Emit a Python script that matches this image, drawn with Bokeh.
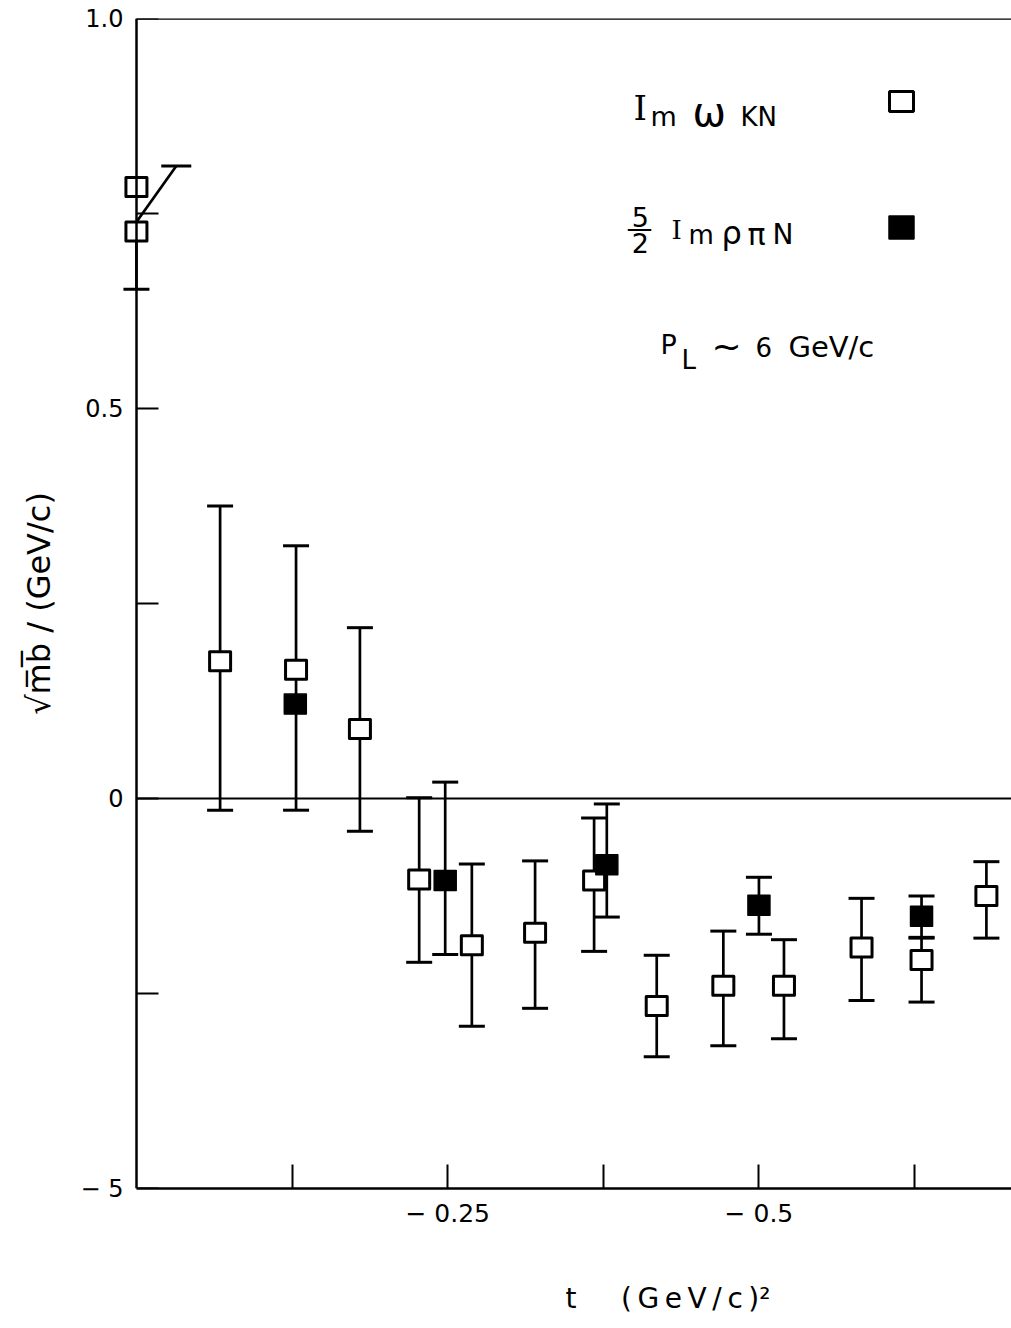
import numpy as np
from bokeh.plotting import figure
from bokeh.models import Range1d, FixedTicker, LinearAxis, Label, Title
from bokeh.embed import file_html
from bokeh.resources import INLINE

# ---------------- data ----------------
nan = float("nan")
# Im omega_KN (open squares)
open_t = [0.0, 0.0, -0.0672, -0.1282, -0.1795, -0.2271, -0.2694, -0.3202,
          -0.3676, -0.4179, -0.4714, -0.5201, -0.5824, -0.6306, -0.6827]
open_v = [0.784, 0.727, 0.176, 0.165, 0.089, -0.104, -0.188, -0.172,
          -0.105, -0.266, -0.240, -0.240, -0.191, -0.207, -0.125]
open_hi = [nan, nan, 0.375, 0.324, 0.219, 0.001, -0.084, -0.080,
           -0.025, -0.201, -0.170, -0.181, -0.128, -0.179, -0.081]
open_lo = [nan, 0.653, -0.015, -0.015, -0.042, -0.210, -0.292, -0.269,
           -0.196, -0.331, -0.317, -0.308, -0.259, -0.261, -0.179]
# upper error of the t=0 point, drawn displaced (diagonal) in the original
offset_bar_t = [0.0, -0.032]
offset_bar_v = [0.739, 0.811]

# 5/2 Im rho_piN (filled squares)
fill_t = [-0.1276, -0.2480, -0.3778, -0.5000, -0.6306]
fill_v = [0.121, -0.105, -0.085, -0.137, -0.151]
fill_hi = [nan, 0.021, -0.007, -0.101, -0.125]
fill_lo = [nan, -0.200, -0.152, -0.174, -0.178]

x_label_ticks = [-0.25, -0.5]
x_plain_ticks = [-0.125, -0.375, -0.625]
x_tick_labels = {-0.25: "\u2212\u00a00.25", -0.5: "\u2212\u00a00.5"}
y_label_ticks = [-0.5, 0.0, 0.5, 1.0]
y_all_ticks = [-0.5, -0.25, 0.0, 0.25, 0.5, 0.75, 1.0]
y_tick_labels = {-0.5: "\u2212\u00a05", 0.0: "0", 0.5: "0.5", 1.0: "1.0"}

# legend marker positions (data coords)
legend_open_tv = (-0.6145, 0.8936)
legend_fill_tv = (-0.6145, 0.732)

FONT = "DejaVu Sans"
X0 = 0.012
X1 = X0 - 890 / 1245.0

p = figure(width=1011, height=1328, x_range=Range1d(X0, X1), y_range=Range1d(-0.5, 1.0),
           output_backend="svg", toolbar_location=None,
           min_border_left=121, min_border_right=0, min_border_top=18, min_border_bottom=140)
p.outline_line_color = None
p.grid.visible = False
p.background_fill_color = "white"
p.border_fill_color = "white"

# x axis: labelled major ticks, unlabelled ticks drawn as minor ticks
xa = p.xaxis[0]
xa.ticker = FixedTicker(ticks=x_label_ticks, minor_ticks=x_plain_ticks)
xa.major_label_overrides = x_tick_labels
xa.bounds = (X1, 0.0)
xa.major_tick_in = 24
xa.major_tick_out = 0
xa.minor_tick_in = 24
xa.minor_tick_out = 0
xa.minor_tick_line_color = "black"
xa.minor_tick_line_width = 2
xa.axis_line_width = 2.5
xa.major_tick_line_width = 2
xa.major_label_text_font = FONT
xa.major_label_text_font_size = "25px"
xa.major_label_text_color = "black"
xa.major_label_standoff = 10

# left axis: labels only (at the frame edge)
ya = p.yaxis[0]
ya.ticker = FixedTicker(ticks=y_label_ticks)
ya.major_label_overrides = y_tick_labels
ya.axis_line_color = None
ya.major_tick_line_color = None
ya.minor_tick_line_color = None
ya.major_tick_in = 0
ya.major_tick_out = 0
ya.major_label_text_font = FONT
ya.major_label_text_font_size = "24px"
ya.major_label_text_color = "black"
ya.major_label_standoff = -2
ya.axis_label = "\u221am\u0305b\u0305 / (GeV/c)"
ya.axis_label_text_font = FONT
ya.axis_label_text_font_size = "32px"
ya.axis_label_text_font_style = "normal"
ya.axis_label_text_color = "black"
ya.axis_label_standoff = 19

# spine at t = 0 with inward ticks (minor ticks only, so no labels)
spine = LinearAxis(fixed_location=0.0, ticker=FixedTicker(ticks=[], minor_ticks=y_all_ticks),
                   minor_tick_in=22, minor_tick_out=0, minor_tick_line_width=2,
                   minor_tick_line_color="black", major_tick_line_color=None,
                   axis_line_width=2.5)
p.add_layout(spine, "left")

# top border line and zero line as bare axes
for loc, lw in ((1.0, 2.5), (0.0, 2.0)):
    ax = LinearAxis(fixed_location=loc, ticker=FixedTicker(ticks=[]), bounds=(X1, 0.0),
                    axis_line_width=lw, major_tick_line_color=None, minor_tick_line_color=None,
                    major_tick_out=0, major_tick_in=0)
    p.add_layout(ax, "above")

# x axis title (placed off-centre as in the original)
xtitle = Title(text="t\u00a0\u00a0\u00a0\u00a0\u00a0(\u2009G\u2009e\u2009V\u2009/\u2009c\u2009)\u00b2",
               align="left", vertical_align="bottom", offset=444, standoff=58,
               text_font=FONT, text_font_size="28px", text_font_style="normal",
               text_color="black")
try:
    xtitle.padding = dict(top=40, right=0, bottom=0, left=0)
    xtitle.standoff = 18
except Exception:
    xtitle.standoff = 58
p.add_layout(xtitle, "below")

# ---------------- error bars ----------------
ot = np.array(open_t); ov = np.array(open_v)
ohi = np.array(open_hi); olo = np.array(open_lo)
stem_hi = np.where(np.isnan(ohi), ov, ohi)
p.segment(x0=ot, y0=olo, x1=ot, y1=stem_hi, line_color="black", line_width=2.7)
p.scatter(np.concatenate([ot, ot]), np.concatenate([ohi, olo]), marker="dash",
          size=26, line_color="black", line_width=3)

ft = np.array(fill_t); fv = np.array(fill_v)
fhi = np.array(fill_hi); flo = np.array(fill_lo)
p.segment(x0=ft, y0=flo, x1=ft, y1=fhi, line_color="black", line_width=2.7)
p.scatter(np.concatenate([ft, ft]), np.concatenate([fhi, flo]), marker="dash",
          size=26, line_color="black", line_width=3)

p.line(offset_bar_t, offset_bar_v, line_color="black", line_width=2.7)
p.scatter([offset_bar_t[-1]], [offset_bar_v[-1]], marker="dash", size=30,
          line_color="black", line_width=3)

# ---------------- squares ----------------
p.rect(ot, ov, width=21, height=19, width_units="screen", height_units="screen",
       fill_color="white", line_color="black", line_width=3, line_join="round")
p.rect(ft, fv, width=22, height=20, width_units="screen", height_units="screen",
       fill_color="black", line_color="black", line_width=1.5, line_join="round")

# legend markers
p.rect([legend_open_tv[0]], [legend_open_tv[1]], width=24, height=20, width_units="screen",
       height_units="screen", fill_color="white", line_color="black", line_width=3)
p.rect([legend_fill_tv[0]], [legend_fill_tv[1]], width=25, height=23, width_units="screen",
       height_units="screen", fill_color="black", line_color="black", line_width=1.5)

# ---------------- texts ----------------
def px_t(px):
    return -(px - 136) / 1245.0

def py_v(py):
    return 1.0 - (py - 18 - 11) / 780.0

def lab(text, px, py, size, align="left", font=FONT):
    p.add_layout(Label(x=px_t(px), y=py_v(py), text=text, text_font=font,
                       text_font_size=f"{size}px", text_align=align,
                       text_baseline="alphabetic", text_color="black"))

# Im omega_KN
lab("I", 633, 118, 34, font="DejaVu Serif")
lab("m", 650, 127, 27)
lab("\u03c9", 692, 122, 40)
lab("KN", 740, 127, 26)
# 5/2 Im rho_piN
lab("5", 640, 227, 27, align="center")
lab("\u2014", 639, 238, 26, align="center")
lab("2", 640, 253, 27, align="center")
lab("I", 671, 240, 26, font="DejaVu Serif")
lab("m", 688, 245, 26)
lab("\u03c1", 721, 243, 32)
lab("\u03c0", 747, 245, 30)
lab("N", 772, 245, 28)
# P_L ~ 6 GeV/c
lab("P", 660, 355, 27)
lab("L", 681, 370, 26)
lab("~", 711, 357, 36)
lab("6", 755, 357, 26)
lab("GeV/c", 788, 357, 29)

open("out.html", "w").write(file_html(p, INLINE))
